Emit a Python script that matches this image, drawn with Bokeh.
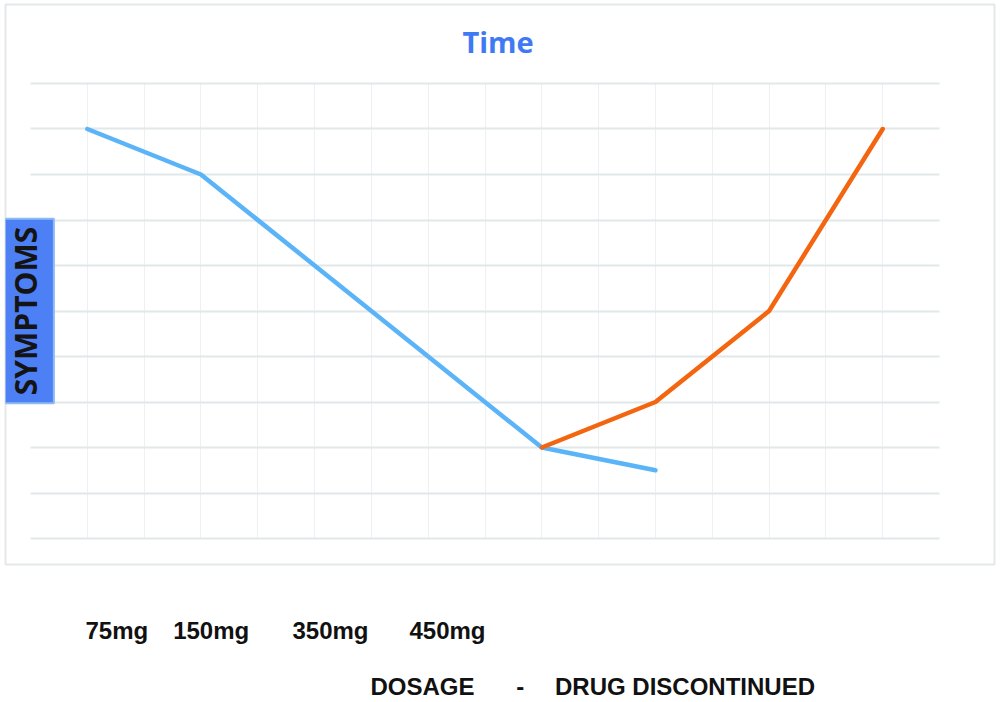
import math
from bokeh.plotting import figure
from bokeh.models import Range1d, SingleIntervalTicker, Label
from bokeh.layouts import column
from bokeh.embed import file_html
from bokeh.resources import INLINE
from bokeh.core.properties import value

# ---------------- data ----------------
title_text = "Time"
y_label = "SYMPTOMS"

time_on_drug = [1, 3, 5, 7, 9, 11]
symptoms_on_drug = [9, 8, 6, 4, 2, 1.5]

time_off_drug = [9, 11, 13, 15]
symptoms_off_drug = [2, 3, 5, 9]

dosage_labels = ["75mg", "150mg", "350mg", "450mg"]
dosage_label_x = [1.52, 3.18, 5.28, 7.34]

footer_labels = ["DOSAGE", "-", "DRUG DISCONTINUED"]
footer_label_x = [6.9, 8.62, 11.52]

# ---------------- chart (frame = the light grey box) ----------------
p = figure(width=999, height=566,
           x_range=Range1d(-0.44, 16.968), y_range=Range1d(-0.571, 11.736),
           output_backend="svg", toolbar_location=None,
           x_axis_location=None, y_axis_location=None,
           min_border_left=5, min_border_right=5,
           min_border_top=4, min_border_bottom=2)
p.outline_line_color = "#e3e8ea"
p.outline_line_width = 2
p.background_fill_color = "white"
p.border_fill_color = "white"

p.xgrid.ticker = SingleIntervalTicker(interval=1)
p.xgrid.bounds = (1, 15)
p.xgrid.cross_bounds = (0, 10)
p.xgrid.grid_line_color = "#eef1f2"
p.xgrid.grid_line_width = 1
p.ygrid.ticker = SingleIntervalTicker(interval=1)
p.ygrid.bounds = (0, 10)
p.ygrid.cross_bounds = (0, 16)
p.ygrid.grid_line_color = "#e2e7e9"
p.ygrid.grid_line_width = 2

p.line(time_on_drug, symptoms_on_drug, line_color="#5bb4f8", line_width=4.5,
       line_cap="round", line_join="round")
p.line(time_off_drug, symptoms_off_drug, line_color="#f4650f", line_width=4.5,
       line_cap="round", line_join="round")

title = Label(x=8.229, y=10.93, text=title_text,
              text_align="center", text_baseline="middle",
              text_font="Open Sans", text_font_style="bold",
              text_font_size="29px", text_color="#3f7af4")
p.add_layout(title)

ylab = Label(x=-0.09, y=5, text=y_label, angle=math.pi / 2,
             text_align="center", text_baseline="middle",
             text_font="Open Sans", text_font_style="bold",
             text_font_size="30px", text_color="#141414",
             background_fill_color="#4d80f5",
             border_line_color="#8cbaf3", border_line_width=2,
             padding=(8, 8))
p.add_layout(ylab)

# ---------------- labels below the box ----------------
p2 = figure(width=999, height=136,
            x_range=p.x_range, y_range=Range1d(-0.286, 2.143),
            output_backend="svg", toolbar_location=None,
            x_axis_location=None, y_axis_location=None,
            min_border_left=5, min_border_right=5,
            min_border_top=0, min_border_bottom=0)
p2.outline_line_color = None
p2.grid.visible = False

p2.text(x=dosage_label_x, y=[1] * len(dosage_labels), text=dosage_labels,
        text_font=value("Liberation Sans"), text_font_style="bold",
        text_font_size="24px", text_align="center", text_baseline="middle",
        text_color="#111111")
p2.text(x=footer_label_x, y=[0] * len(footer_labels), text=footer_labels,
        text_font=value("Liberation Sans"), text_font_style="bold",
        text_font_size="24px", text_align="center", text_baseline="middle",
        text_color="#111111")

layout = column(p, p2)
open("out.html", "w").write(file_html(layout, INLINE))
